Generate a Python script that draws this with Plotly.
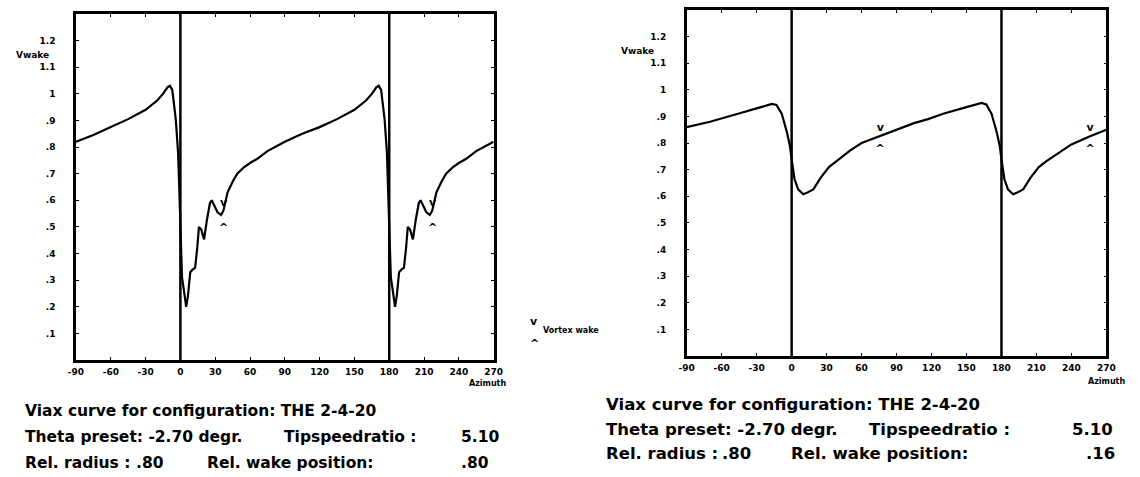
import plotly.graph_objects as go

# ---------------- data ----------------
azimuth_left = [-90, -75, -60, -45, -30, -20, -15, -11, -9, -7, -4, -2, -1, 0, 0.8, 1.4, 2.6, 4, 5, 6.5,
                8.5, 10.5, 12.7, 14.5, 16, 18, 20.4, 23, 25.5, 27, 29, 32, 35, 37, 40.7, 45, 49,
                55, 60, 66, 75, 90, 105, 120, 135, 150, 160, 165, 169, 171, 173, 176, 178, 179,
                180, 180.8, 181.4, 182.6, 184, 185, 186.5, 188.5, 190.5, 192.7, 194.5, 196, 198,
                200.4, 203, 205.5, 207, 209, 212, 215, 217, 220.7, 225, 229, 235, 240, 246, 255, 270]
vwake_left = [0.82, 0.845, 0.875, 0.905, 0.94, 0.975, 1.0, 1.025, 1.03, 1.015, 0.905, 0.78, 0.65, 0.52, 0.40, 0.31, 0.275, 0.22, 0.20, 0.24,
              0.33, 0.34, 0.347, 0.42, 0.50, 0.49, 0.453, 0.53, 0.59, 0.60, 0.58, 0.555, 0.545, 0.56, 0.63, 0.67, 0.70,
              0.725, 0.74, 0.755, 0.785, 0.82, 0.85, 0.875, 0.905, 0.94, 0.975, 1.0, 1.025, 1.03, 1.015, 0.905, 0.78, 0.65,
              0.52, 0.40, 0.31, 0.275, 0.22, 0.20, 0.24, 0.33, 0.34, 0.347, 0.42, 0.50, 0.49,
              0.453, 0.53, 0.59, 0.60, 0.58, 0.555, 0.545, 0.56, 0.63, 0.67, 0.70, 0.725, 0.74, 0.755, 0.785, 0.82]

azimuth_right = [-90, -70, -46, -30, -20, -17, -13, -8.5, -4, -1.5, 0, 2.5, 5.6, 10, 13, 18.6, 25, 32, 38,
                 50, 60, 76, 90, 105, 117, 130, 150, 160, 163, 167, 171.5, 176, 178.5, 180, 182.5, 185.6,
                 190, 193, 198.6, 205, 212, 218, 230, 240, 256, 270]
vwake_right = [0.86, 0.88, 0.91, 0.93, 0.943, 0.947, 0.943, 0.91, 0.84, 0.79, 0.74, 0.664, 0.626, 0.608, 0.613, 0.626, 0.67, 0.71, 0.73,
               0.772, 0.80, 0.826, 0.85, 0.875, 0.89, 0.91, 0.935, 0.947, 0.951, 0.945, 0.91, 0.84, 0.79, 0.74, 0.664, 0.626,
               0.608, 0.613, 0.626, 0.67, 0.71, 0.73, 0.766, 0.795, 0.826, 0.85]

wake_az_left = [37.3, 217.3]
wake_az_right = [76, 256]
wake_upper_left = [0.59, 0.59]
wake_lower_left = [0.495, 0.495]
wake_upper_right = [0.857, 0.857]
wake_lower_right = [0.775, 0.775]

blade_azimuths = [0, 180]

xtick_vals = [-90, -60, -30, 0, 30, 60, 90, 120, 150, 180, 210, 240, 270]
xtick_text = ["-90", "-60", "-30", "0", "30", "60", "90", "120", "150", "180", "210", "240", "270"]
ytick_vals = [0.1, 0.2, 0.3, 0.4, 0.5, 0.6, 0.7, 0.8, 0.9, 1.0, 1.1, 1.2]
ytick_text = [".1", ".2", ".3", ".4", ".5", ".6", ".7", ".8", ".9", "1", "1.1", "1.2"]

info_left = ["Viax curve for configuration: THE 2-4-20", "Theta preset: -2.70 degr.", "Tipspeedratio :", "5.10",
             "Rel. radius :", ".80", "Rel. wake position:", ".80"]
info_right = ["Viax curve for configuration: THE 2-4-20", "Theta preset: -2.70 degr.", "Tipspeedratio :", "5.10",
              "Rel. radius :", ".80", "Rel. wake position:", ".16"]

# ---------------- figure ----------------
W, H = 1140, 477
FONT = "DejaVu Sans"

fig = go.Figure()
line_style = dict(color="black", width=2.2)
fig.add_trace(go.Scatter(x=azimuth_left, y=vwake_left, mode="lines", line=line_style, xaxis="x", yaxis="y"))
fig.add_trace(go.Scatter(x=azimuth_right, y=vwake_right, mode="lines", line=line_style, xaxis="x2", yaxis="y2"))

mk_font = dict(family=FONT, size=11, color="black", weight="bold")
fig.add_trace(go.Scatter(x=wake_az_left, y=wake_upper_left, mode="text", text=["v"] * 2, textfont=mk_font,
                         xaxis="x", yaxis="y"))
fig.add_trace(go.Scatter(x=wake_az_left, y=wake_lower_left, mode="text", text=["^"] * 2, textfont=mk_font,
                         xaxis="x", yaxis="y"))
fig.add_trace(go.Scatter(x=wake_az_right, y=wake_upper_right, mode="text", text=["v"] * 2, textfont=mk_font,
                         xaxis="x2", yaxis="y2"))
fig.add_trace(go.Scatter(x=wake_az_right, y=wake_lower_right, mode="text", text=["^"] * 2, textfont=mk_font,
                         xaxis="x2", yaxis="y2"))


def px_x(p):
    return p / W


def px_y(p):
    return 1 - p / H


tick_font = dict(family=FONT, size=9, color="black", weight="bold")
ax_common = dict(range=[-90, 270], tickvals=xtick_vals, ticktext=xtick_text, showgrid=False, zeroline=False,
                 showline=True, mirror="ticks", linecolor="black", linewidth=2.5, ticks="inside", ticklen=3,
                 tickcolor="black", tickfont=tick_font, ticklabelstandoff=1)
ay_common = dict(range=[0, 1.3], tickvals=ytick_vals, ticktext=ytick_text, showgrid=False, zeroline=False,
                 showline=True, mirror="ticks", linecolor="black", linewidth=2.5, ticks="inside", ticklen=3,
                 tickcolor="black", tickfont=tick_font, ticklabelstandoff=16)

fig.update_layout(
    width=W, height=H, margin=dict(l=0, r=0, t=0, b=0),
    paper_bgcolor="white", plot_bgcolor="white", showlegend=False,
    xaxis=dict(domain=[px_x(69), px_x(493)], anchor="y", **ax_common),
    yaxis=dict(domain=[px_y(360), px_y(14)], anchor="x", **ay_common),
    xaxis2=dict(domain=[px_x(689), px_x(1115)], anchor="y2", **ax_common),
    yaxis2=dict(domain=[px_y(356), px_y(10)], anchor="x2", **ay_common),
)

shapes = []
for xa, ya in (("x", "y"), ("x2", "y2")):
    for b in blade_azimuths:
        shapes.append(dict(type="line", xref=xa, yref=ya + " domain", x0=b, x1=b, y0=0, y1=1,
                           line=dict(color="black", width=2.5)))
fig.update_layout(shapes=shapes)

ann = []


def label(text, x, y, size, anchor="left"):
    ann.append(dict(text="<b>" + text + "</b>", x=px_x(x), y=px_y(y), xref="paper", yref="paper",
                    xanchor=anchor, yanchor="middle", showarrow=False,
                    font=dict(family=FONT, size=size, color="black")))


small = 8
label("Vwake", 6, 55, 9)
label("Vwake", 620, 51, 9)
label("Azimuth", 508, 383, small, "right")
label("Azimuth", 1136, 381, small, "right")

# vortex wake legend
label("v", 528, 321, 11)
label("^", 528, 343, 11)
label("Vortex wake", 541, 330, small)

fs = 15.5
label(info_left[0], 15, 411, fs)
label(info_left[1], 15, 437, fs)
label(info_left[2], 278, 437, fs)
label(info_left[3], 458, 437, fs)
label(info_left[4], 15, 463, fs)
label(info_left[5], 128, 463, fs)
label(info_left[6], 200, 463, fs)
label(info_left[7], 458, 463, fs)

fs2 = 16.5
label(info_right[0], 605, 404, fs2)
label(info_right[1], 605, 429, fs2)
label(info_right[2], 872, 429, fs2)
label(info_right[3], 1078, 429, fs2)
label(info_right[4], 605, 453, fs2)
label(info_right[5], 723, 453, fs2)
label(info_right[6], 793, 453, fs2)
label(info_right[7], 1092, 453, fs2)

fig.update_layout(annotations=ann)

fig.write_html("out.html")
